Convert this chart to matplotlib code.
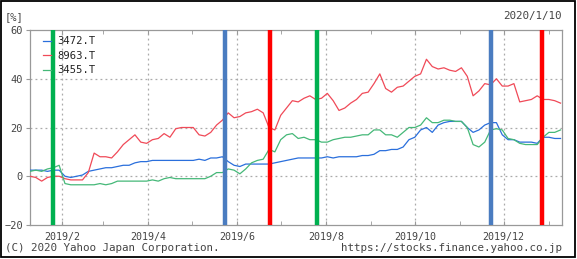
import numpy as np
import pandas as pd
import matplotlib
matplotlib.use("Agg")
import matplotlib.pyplot as plt
import matplotlib.dates as mdates
from matplotlib.patches import Rectangle

# one sample every 4 days
dates = pd.date_range("2019-01-10", "2020-01-10", freq="4D")

s3472 = [2.5, 2.5, 2.5, 2, 2.5, 2.5, 0, -0.5, 0, 0.5,
         2, 2.5, 3, 3.5, 3.5, 4, 4.5, 4.5, 5.5, 6,
         6, 6.5, 6.5, 6.5, 6.5, 6.5, 6.5, 6.5, 6.5, 7,
         6.5, 7.5, 7.5, 8, 6, 4.5, 4, 5, 5, 5,
         5, 5, 5.5, 6, 6.5, 7, 7.5, 7.5, 7.5, 7.5,
         7.5, 8, 7.5, 8, 8, 8, 8, 8.5, 8.5, 9,
         10.5, 10.5, 11, 11, 12, 15, 16, 19, 20, 18,
         21, 22, 22.5, 22.5, 22.5, 20, 18, 19, 21, 22,
         22, 17, 15, 15, 14, 14, 14, 13.5, 16, 16,
         15.5, 15.5]

s8963 = [0, -0.5, -2, -0.5, 0, 0, -1, -1.5, -1.5, -1.5,
         1.5, 9.5, 8, 8, 7.5, 10, 13, 15, 17, 14,
         13.5, 15, 15.5, 17.5, 16, 19.5, 20, 20, 20, 17,
         16.5, 18, 21, 23, 26, 24, 24.5, 26, 26.5, 27.5,
         26, 20, 19, 25, 28, 31, 30.5, 32, 33, 31.5,
         32, 34, 31, 27, 28, 30, 31.5, 34, 34.5, 38,
         42, 36, 34.5, 36.5, 37, 39, 41, 42, 48, 45,
         44, 44.5, 43.5, 43, 44.5, 41, 33, 35, 38, 37.5,
         40, 37, 37, 38, 30.5, 31, 31.5, 33, 31.5, 31.5,
         31, 30]

s3455 = [2, 2.5, 2, 3, 3.5, 4.5, -3, -3.5, -3.5, -3.5,
         -3.5, -3.5, -3, -3.5, -3, -2, -2, -2, -2, -2,
         -2, -1.5, -2, -1, -0.5, -1, -1, -1, -1, -1,
         -1, 0, 1.5, 1.5, 3, 2.5, 1, 3, 5.5, 6.5,
         7, 11, 10, 15, 17, 17.5, 15.5, 16, 15, 15,
         14, 14, 15, 15.5, 16, 16, 16.5, 17, 17, 19,
         19, 17, 17, 16, 18, 20, 20, 21, 24, 22,
         22, 23, 23, 22.5, 22.5, 20, 13, 12, 14, 19,
         19.5, 19, 15.5, 15, 13.5, 13, 13, 13, 16, 18,
         18, 19]

series = {"3472.T": s3472, "8963.T": s8963, "3455.T": s3455}
line_colors = {"3472.T": "#2a6fdc", "8963.T": "#f04a58", "3455.T": "#45b878"}

# event markers (vertical bars)
event_dates = ["2019-01-26", "2019-05-24", "2019-06-24",
               "2019-07-26", "2019-11-22", "2019-12-27"]
event_colors = ["#00b050", "#4a7cc0", "#ff0000",
                "#00b050", "#4a7cc0", "#ff0000"]

major_months = pd.date_range("2019-02-01", "2019-12-01", freq="2MS")
minor_months = pd.date_range("2019-03-01", "2020-01-01", freq="2MS")

mono = "DejaVu Sans Mono"
txt = "#444444"
grey = "#999999"

fig = plt.figure(figsize=(5.77, 2.59), dpi=100)
ax = fig.add_axes([30 / 577, 34 / 259, 532 / 577, 195 / 259])

for name, vals in series.items():
    ax.plot(dates, vals, color=line_colors[name], lw=0.9, label=name, zorder=3)

for d, c in zip(event_dates, event_colors):
    ax.axvline(pd.Timestamp(d), color=c, lw=3.2, zorder=4)

ax.set_xlim(pd.Timestamp("2019-01-10"), pd.Timestamp("2020-01-10"))
ax.set_ylim(-20, 60)
ax.set_yticks([-20, 0, 20, 40, 60])

ax.set_xticks(major_months)
ax.set_xticklabels([f"{d.year}/{d.month}" for d in major_months],
                   fontfamily=mono, fontsize=7.2, color=txt)
ax.set_xticks(minor_months, minor=True)
ax.tick_params(axis="x", which="both", direction="in", length=3,
               top=True, bottom=True, color=grey, pad=5)
ax.tick_params(axis="y", direction="out", length=3, color=grey,
               labelsize=7.5, labelcolor=txt, pad=2)
for lab in ax.get_yticklabels():
    lab.set_fontfamily(mono)

for y in [0, 20, 40]:
    ax.axhline(y, color="#aaaaaa", lw=0.9, ls=(0, (1.5, 2.5)), zorder=1)
for d in major_months:
    ax.axvline(d, color="#aaaaaa", lw=0.9, ls=(0, (1.5, 2.5)), zorder=1)

for sp in ax.spines.values():
    sp.set_color(grey)
    sp.set_linewidth(0.9)

leg = ax.legend(loc="upper left", bbox_to_anchor=(0.013, 1.0), frameon=False,
                handlelength=0.7, handletextpad=0.6, labelspacing=0.42,
                borderaxespad=0.2, prop={"family": mono, "size": 7.6})
for t in leg.get_texts():
    t.set_color("#222222")

fig.text(5 / 577, 1 - 17 / 259, "[%]", fontfamily=mono, fontsize=7.5,
         color=txt, va="center", ha="left")
fig.text(562 / 577, 1 - 16 / 259, "2020/1/10", fontfamily=mono, fontsize=7.8,
         color=txt, va="center", ha="right")
fig.text(5 / 577, 1 - 248 / 259, "(C) 2020 Yahoo Japan Corporation.",
         fontfamily=mono, fontsize=7.8, color=txt, va="center", ha="left")
fig.text(562 / 577, 1 - 248 / 259, "https://stocks.finance.yahoo.co.jp",
         fontfamily=mono, fontsize=7.8, color=txt, va="center", ha="right")

fig.patches.append(Rectangle((1 / 577, 2 / 259), 574 / 577, 256 / 259,
                             transform=fig.transFigure, fill=False,
                             edgecolor="black", lw=1.3))

fig.savefig("out.png", dpi=100)
